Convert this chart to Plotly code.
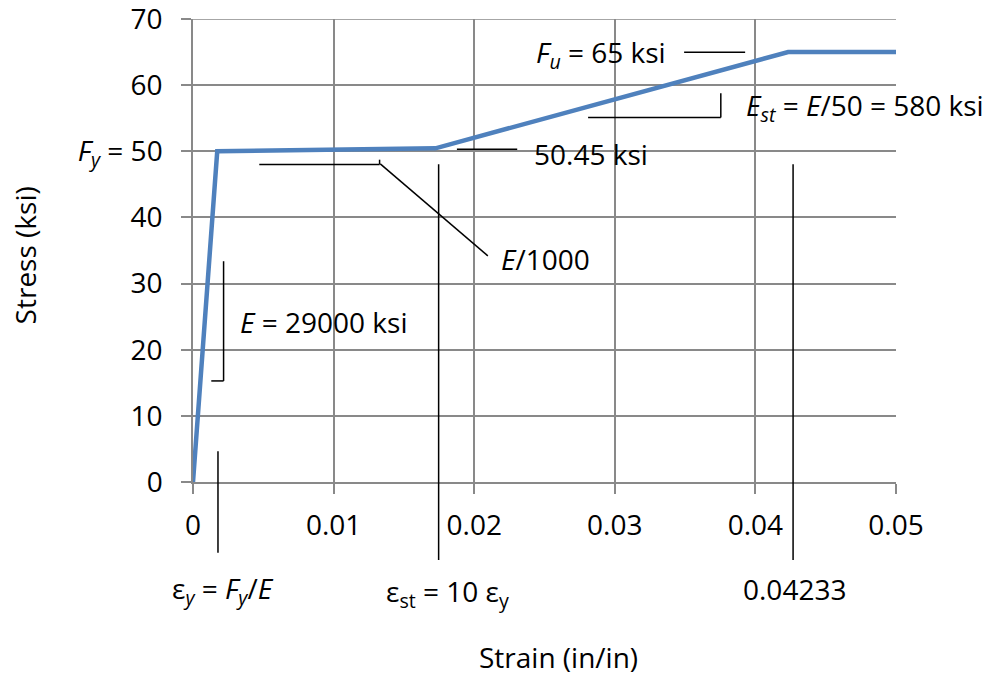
import plotly.graph_objects as go

# Data: bilinear-with-hardening steel stress-strain model
strain = [0, 0.001724, 0.01724, 0.04233, 0.05]
stress = [0, 50, 50.45, 65, 65]

x_ticks = [0, 0.01, 0.02, 0.03, 0.04, 0.05]
x_ticktext = ["0", "0.01", "0.02", "0.03", "0.04", "0.05"]
y_ticks = [0, 10, 20, 30, 40, 50, 60, 70]
y_ticktext = ["0", "10", "20", "30", "40", "<i>F<sub>y</sub></i> = 50", "60", "70"]

FONT = "Open Sans"
FS = 28
GRID = "#898989"

fig = go.Figure()
fig.add_trace(go.Scatter(x=strain, y=stress, mode="lines",
                         line=dict(color="#4F81BD", width=4.5),
                         showlegend=False, hoverinfo="skip"))

blk = dict(color="black", width=1.5)
shapes = []
def seg(x0, y0, x1, y1, xref="x", yref="y", line=blk, layer="above"):
    shapes.append(dict(type="line", x0=x0, y0=y0, x1=x1, y1=y1,
                       xref=xref, yref=yref, line=line, layer=layer))

# top gridline at the range edge (plotly drops it)
seg(0, y_ticks[-1], 1, y_ticks[-1], xref="x domain",
    line=dict(color=GRID, width=1.5), layer="below")

# E = 29000 ksi bracket
seg(0.002175, 33.38, 0.002175, 15.28)
seg(0.0013, 15.28, 0.002175, 15.28)
# E/1000 leader
seg(0.004714, 48.02, 0.01327, 48.02)
seg(0.01327, 48.02, 0.01327, 48.73)
seg(0.01332, 48.1, 0.02097, 34.19)
# 50.45 ksi leader
seg(0.01877, 50.32, 0.02306, 50.32)
# Fu leader
seg(0.03493, 64.96, 0.03927, 64.96)
# Est bracket
seg(0.0281, 55.11, 0.03754, 55.11)
seg(0.03754, 55.11, 0.03754, 58.77)
# vertical markers extending below axis (y in paper units)
seg(0.001777, 0.0662, 0.001777, -0.1530, yref="paper")
seg(0.01747, 0.6864, 0.01747, -0.1684, yref="paper")
seg(0.04268, 0.6864, 0.04268, -0.1684, yref="paper")

annotations = []
def txt(x, y, s, xanchor="left", xref="x", yref="y", angle=0):
    annotations.append(dict(x=x, y=y, text=s, xref=xref, yref=yref,
                            xanchor=xanchor, yanchor="middle", showarrow=False,
                            textangle=angle,
                            font=dict(family=FONT, size=FS, color="black")))

txt(0.00322, 24.23, "<i>E</i> = 29000 ksi")
txt(0.02173, 33.79, "<i>E</i>/1000")
txt(0.0241, 49.63, "50.45 ksi")
txt(0.03379, 64.7, "<i>F<sub>u</sub></i> = 65 ksi", xanchor="right")
txt(0.03919, 56.67, "<i>E<sub>st</sub></i> = <i>E</i>/50 = 580 ksi")
txt(0.0428, -0.2323, "ε<sub><i>y</i></sub> = <i>F<sub>y</sub></i>/<i>E</i>", xanchor="center", xref="paper", yref="paper")
txt(0.3623, -0.2388, "ε<sub>st</sub> = 10 ε<sub>y</sub>", xanchor="center", xref="paper", yref="paper")
txt(0.856, -0.232, "0.04233", xanchor="center", xref="paper", yref="paper")
txt(0.520, -0.378, "Strain (in/in)", xanchor="center", xref="paper", yref="paper")
txt(-0.2384, 0.4903, "Stress (ksi)", xanchor="center", xref="paper", yref="paper", angle=-90)

axis_common = dict(showgrid=True, gridcolor=GRID, gridwidth=1.5,
                   showline=True, linecolor=GRID, linewidth=1.5,
                   ticks="outside", ticklen=10, tickcolor=GRID, tickwidth=1.5,
                   zeroline=False, mirror=False, ticklabeloverflow="allow",
                   automargin=False,
                   tickfont=dict(family=FONT, size=FS, color="black"))

fig.update_layout(
    width=989, height=677,
    margin=dict(l=193, r=93, t=19, b=195),
    paper_bgcolor="white", plot_bgcolor="white",
    shapes=shapes, annotations=annotations,
    xaxis=dict(range=[0, 0.05], tickvals=x_ticks, ticktext=x_ticktext,
               ticklabelstandoff=8, **axis_common),
    yaxis=dict(range=[0, 70], tickvals=y_ticks, ticktext=y_ticktext,
               ticklabelstandoff=13, **axis_common),
)

fig.write_html("out.html")
